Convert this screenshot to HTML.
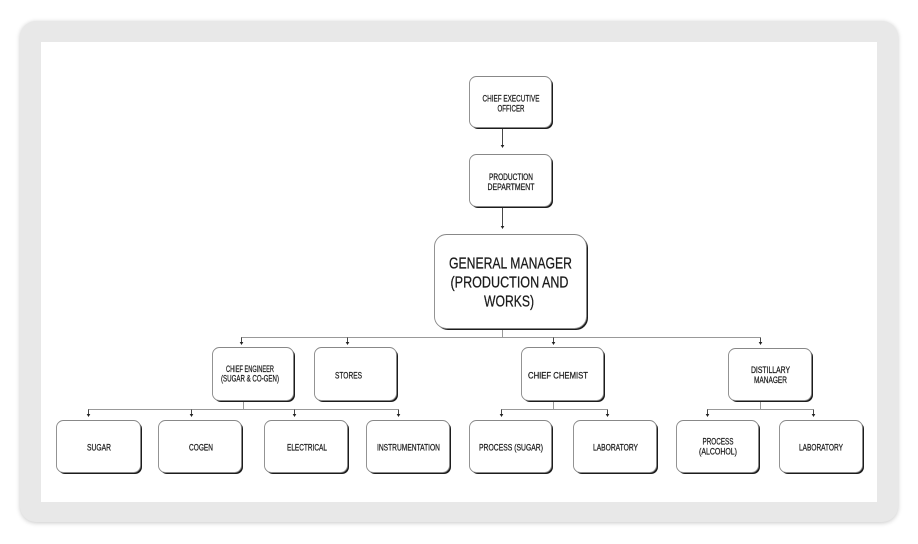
<!DOCTYPE html>
<html><head><meta charset="utf-8"><style>
html,body{margin:0;padding:0;background:#fff;width:918px;height:544px;overflow:hidden}
.frame{position:absolute;left:20px;top:21px;width:878px;height:501px;background:#e8e8e8;border-radius:16px;box-shadow:0 1px 5px rgba(0,0,0,0.22)}
.inner{position:absolute;left:41px;top:42px;width:836px;height:460px;background:#fff}
svg{position:absolute;left:0;top:0}
text{font-family:"Liberation Sans",sans-serif;fill:#1a1a1a;text-anchor:middle;stroke:#1a1a1a;stroke-width:0.25}
</style></head><body>
<div class="frame"></div><div class="inner"></div>
<svg width="918" height="544" viewBox="0 0 918 544" xmlns="http://www.w3.org/2000/svg">
<defs>
<g id="ah"><path d="M-1.8,-3 L1.8,-3 L0,0 Z" fill="#222"/></g>
</defs>
<g stroke="#999" stroke-width="1" fill="none">
<line x1="502.5" y1="329" x2="502.5" y2="337.5"/>
<line x1="241" y1="337.5" x2="760.5" y2="337.5"/>
<line x1="243.5" y1="401" x2="243.5" y2="409.5"/>
<line x1="88" y1="409.5" x2="398.5" y2="409.5"/>
<line x1="553.5" y1="401" x2="553.5" y2="409.5"/>
<line x1="501" y1="409.5" x2="607.5" y2="409.5"/>
<line x1="760.5" y1="401" x2="760.5" y2="409.5"/>
<line x1="707" y1="409.5" x2="813.5" y2="409.5"/>
</g>
<g stroke="#333" stroke-width="0.9">
<line x1="502.5" y1="128" x2="502.5" y2="145"/>
<line x1="502.5" y1="207" x2="502.5" y2="226"/>
<line x1="241.5" y1="337.5" x2="241.5" y2="342"/>
<line x1="347.5" y1="337.5" x2="347.5" y2="342"/>
<line x1="553.5" y1="337.5" x2="553.5" y2="342"/>
<line x1="760.5" y1="337.5" x2="760.5" y2="342"/>
<line x1="88.5" y1="409.5" x2="88.5" y2="414"/>
<line x1="191.5" y1="409.5" x2="191.5" y2="414"/>
<line x1="294.5" y1="409.5" x2="294.5" y2="414"/>
<line x1="398.5" y1="409.5" x2="398.5" y2="414"/>
<line x1="501.5" y1="409.5" x2="501.5" y2="414"/>
<line x1="607.5" y1="409.5" x2="607.5" y2="414"/>
<line x1="707.5" y1="409.5" x2="707.5" y2="414"/>
<line x1="813.5" y1="409.5" x2="813.5" y2="414"/>
</g>
<use href="#ah" x="502.5" y="148"/>
<use href="#ah" x="502.5" y="229"/>
<use href="#ah" x="241.5" y="345"/>
<use href="#ah" x="347.5" y="345"/>
<use href="#ah" x="553.5" y="345"/>
<use href="#ah" x="760.5" y="345"/>
<use href="#ah" x="88.5" y="417"/>
<use href="#ah" x="191.5" y="417"/>
<use href="#ah" x="294.5" y="417"/>
<use href="#ah" x="398.5" y="417"/>
<use href="#ah" x="501.5" y="417"/>
<use href="#ah" x="607.5" y="417"/>
<use href="#ah" x="707.5" y="417"/>
<use href="#ah" x="813.5" y="417"/>

<g>
<rect x="471" y="78" width="82" height="51" rx="7" fill="#1c1c1c"/>
<rect x="469.5" y="76.5" width="82" height="51" rx="7" fill="#fff" stroke="#888" stroke-width="0.9"/>
<rect x="471" y="156" width="82" height="52" rx="7" fill="#1c1c1c"/>
<rect x="469.5" y="154.5" width="82" height="52" rx="7" fill="#fff" stroke="#888" stroke-width="0.9"/>
<rect x="436" y="236" width="152" height="94" rx="12" fill="#1c1c1c"/>
<rect x="434.5" y="234.5" width="152" height="94" rx="12" fill="#fff" stroke="#888" stroke-width="0.9"/>

<rect x="214" y="349" width="81" height="53" rx="7" fill="#1c1c1c"/>
<rect x="212.5" y="347.5" width="81" height="53" rx="7" fill="#fff" stroke="#888" stroke-width="0.9"/>
<rect x="316" y="349" width="82" height="53" rx="7" fill="#1c1c1c"/>
<rect x="314.5" y="347.5" width="82" height="53" rx="7" fill="#fff" stroke="#888" stroke-width="0.9"/>
<rect x="523" y="349" width="82" height="53" rx="7" fill="#1c1c1c"/>
<rect x="521.5" y="347.5" width="82" height="53" rx="7" fill="#fff" stroke="#888" stroke-width="0.9"/>
<rect x="730" y="350" width="83" height="52" rx="7" fill="#1c1c1c"/>
<rect x="728.5" y="348.5" width="83" height="52" rx="7" fill="#fff" stroke="#888" stroke-width="0.9"/>

<rect x="58" y="422" width="84" height="52" rx="7" fill="#1c1c1c"/>
<rect x="56.5" y="420.5" width="84" height="52" rx="7" fill="#fff" stroke="#888" stroke-width="0.9"/>
<rect x="160" y="422" width="83" height="52" rx="7" fill="#1c1c1c"/>
<rect x="158.5" y="420.5" width="83" height="52" rx="7" fill="#fff" stroke="#888" stroke-width="0.9"/>
<rect x="266" y="422" width="83" height="52" rx="7" fill="#1c1c1c"/>
<rect x="264.5" y="420.5" width="83" height="52" rx="7" fill="#fff" stroke="#888" stroke-width="0.9"/>
<rect x="368" y="422" width="83" height="52" rx="7" fill="#1c1c1c"/>
<rect x="366.5" y="420.5" width="83" height="52" rx="7" fill="#fff" stroke="#888" stroke-width="0.9"/>
<rect x="471" y="422" width="82" height="52" rx="7" fill="#1c1c1c"/>
<rect x="469.5" y="420.5" width="82" height="52" rx="7" fill="#fff" stroke="#888" stroke-width="0.9"/>
<rect x="575" y="422" width="83" height="52" rx="7" fill="#1c1c1c"/>
<rect x="573.5" y="420.5" width="83" height="52" rx="7" fill="#fff" stroke="#888" stroke-width="0.9"/>
<rect x="678" y="422" width="82" height="52" rx="7" fill="#1c1c1c"/>
<rect x="676.5" y="420.5" width="82" height="52" rx="7" fill="#fff" stroke="#888" stroke-width="0.9"/>
<rect x="781" y="422" width="83" height="52" rx="7" fill="#1c1c1c"/>
<rect x="779.5" y="420.5" width="83" height="52" rx="7" fill="#fff" stroke="#888" stroke-width="0.9"/>
</g>

<g font-size="9">
<text x="511" y="101.5" textLength="57" lengthAdjust="spacingAndGlyphs">CHIEF EXECUTIVE</text>
<text x="511" y="111.5" textLength="27" lengthAdjust="spacingAndGlyphs">OFFICER</text>
<text x="511" y="180" textLength="44" lengthAdjust="spacingAndGlyphs">PRODUCTION</text>
<text x="511" y="190" textLength="47" lengthAdjust="spacingAndGlyphs">DEPARTMENT</text>
<text x="250" y="372" textLength="48" lengthAdjust="spacingAndGlyphs">CHIEF ENGINEER</text>
<text x="250" y="381.5" textLength="58" lengthAdjust="spacingAndGlyphs">(SUGAR &amp; CO-GEN)</text>
<text x="348.5" y="378.5" textLength="27" lengthAdjust="spacingAndGlyphs">STORES</text>
<text x="558" y="378.5" textLength="60" lengthAdjust="spacingAndGlyphs">CHIEF CHEMIST</text>
<text x="770.5" y="373" textLength="39" lengthAdjust="spacingAndGlyphs">DISTILLARY</text>
<text x="770.5" y="383" textLength="33" lengthAdjust="spacingAndGlyphs">MANAGER</text>
<text x="99" y="450.5" textLength="24" lengthAdjust="spacingAndGlyphs">SUGAR</text>
<text x="201" y="450.5" textLength="24" lengthAdjust="spacingAndGlyphs">COGEN</text>
<text x="307" y="450.5" textLength="40" lengthAdjust="spacingAndGlyphs">ELECTRICAL</text>
<text x="408.5" y="450.5" textLength="63" lengthAdjust="spacingAndGlyphs">INSTRUMENTATION</text>
<text x="511" y="450.5" textLength="64" lengthAdjust="spacingAndGlyphs">PROCESS (SUGAR)</text>
<text x="615.5" y="450.5" textLength="45" lengthAdjust="spacingAndGlyphs">LABORATORY</text>
<text x="718" y="444.5" textLength="31" lengthAdjust="spacingAndGlyphs">PROCESS</text>
<text x="718" y="454.5" textLength="38" lengthAdjust="spacingAndGlyphs">(ALCOHOL)</text>
<text x="821" y="450.5" textLength="44" lengthAdjust="spacingAndGlyphs">LABORATORY</text>
</g>
<g font-size="15.5">
<text x="510.5" y="268.5" textLength="123" lengthAdjust="spacingAndGlyphs">GENERAL MANAGER</text>
<text x="509.5" y="287.5" textLength="118" lengthAdjust="spacingAndGlyphs">(PRODUCTION AND</text>
<text x="509" y="306.5" textLength="50" lengthAdjust="spacingAndGlyphs">WORKS)</text>
</g>
</svg>
</body></html>
